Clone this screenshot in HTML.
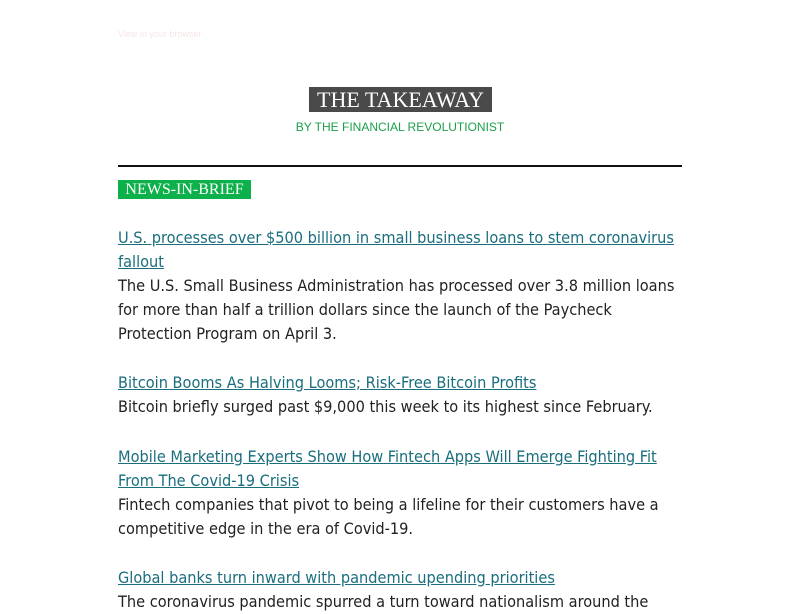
<!DOCTYPE html>
<html><head><meta charset="utf-8"><style>
body{margin:0;width:800px;height:600px;background:#fff;overflow:hidden;position:relative;font-family:"DejaVu Sans Condensed","DejaVu Sans",sans-serif}
.l{position:absolute;left:118px;white-space:nowrap;font-size:16.2px;line-height:24px;color:#222}
a.l{color:#1a6e7e;text-decoration:underline}
</style></head><body>
<div style="position:absolute;left:118px;top:29px;font:9px 'Liberation Sans',sans-serif;color:#f6e6e6">View in your browser</div>
<div style="position:absolute;left:309px;top:87px;width:183px;height:25px;background:#4a4a4a;color:#fff;font:22px/26px 'Liberation Serif',serif;text-align:center">THE TAKEAWAY</div>
<div style="position:absolute;left:0;width:800px;top:119px;text-align:center;font:12px/16px 'Liberation Sans',sans-serif;color:#1aa04a">BY THE FINANCIAL REVOLUTIONIST</div>
<div style="position:absolute;left:118px;top:165px;width:564px;height:2px;background:#111"></div>
<div style="position:absolute;left:118px;top:180px;width:133px;height:19px;background:#0db14b;color:#fff;font:16px/19px 'Liberation Serif',serif;text-align:center">NEWS-IN-BRIEF</div>
<a class="l" style="top:226px">U.S. processes over $500 billion in small business loans to stem coronavirus</a>
<a class="l" style="top:250px">fallout</a>
<div class="l" style="top:274px">The U.S. Small Business Administration has processed over 3.8 million loans</div>
<div class="l" style="top:298px">for more than half a trillion dollars since the launch of the Paycheck</div>
<div class="l" style="top:322px">Protection Program on April 3.</div>
<a class="l" style="top:371px">Bitcoin Booms As Halving Looms; Risk-Free Bitcoin Profits</a>
<div class="l" style="top:395px">Bitcoin briefly surged past $9,000 this week to its highest since February.</div>
<a class="l" style="top:445px">Mobile Marketing Experts Show How Fintech Apps Will Emerge Fighting Fit</a>
<a class="l" style="top:469px">From The Covid-19 Crisis</a>
<div class="l" style="top:493px">Fintech companies that pivot to being a lifeline for their customers have a</div>
<div class="l" style="top:517px">competitive edge in the era of Covid-19.</div>
<a class="l" style="top:566px">Global banks turn inward with pandemic upending priorities</a>
<div class="l" style="top:590px">The coronavirus pandemic spurred a turn toward nationalism around the</div>
</body></html>
